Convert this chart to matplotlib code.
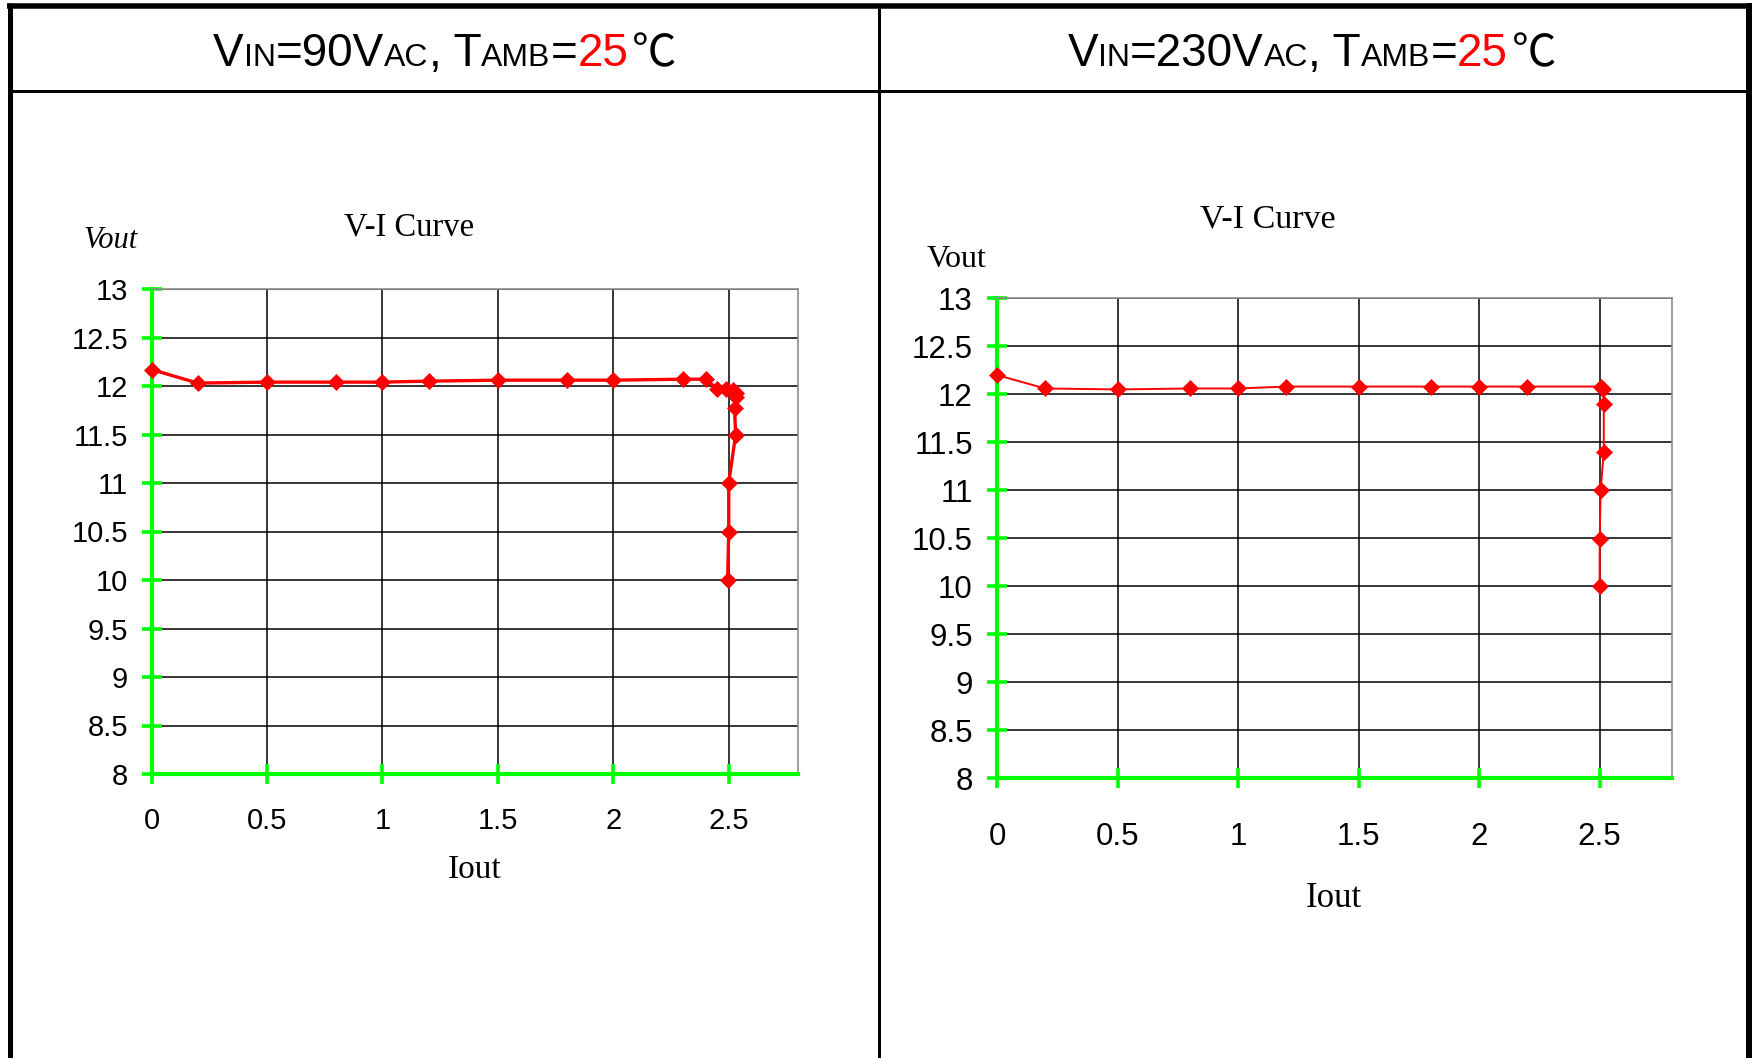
import matplotlib
matplotlib.use("Agg")
import matplotlib.pyplot as plt

# V-I curve readings, 90 VAC input
iout_90 = [0, 0.2, 0.5, 0.8, 1.0, 1.2, 1.5, 1.8, 2.0, 2.3, 2.4, 2.45, 2.49, 2.52,
           2.53, 2.53, 2.525, 2.53, 2.5, 2.5, 2.495]
vout_90 = [12.17, 12.03, 12.04, 12.04, 12.04, 12.05, 12.06, 12.06, 12.06, 12.07, 12.07,
           11.97, 11.97, 11.96, 11.93, 11.89, 11.77, 11.5, 11.0, 10.49, 10.0]

# V-I curve readings, 230 VAC input
iout_230 = [0, 0.2, 0.5, 0.8, 1.0, 1.2, 1.5, 1.8, 2.0, 2.2, 2.505, 2.515, 2.517,
            2.517, 2.504, 2.5, 2.5]
vout_230 = [12.2, 12.06, 12.05, 12.06, 12.06, 12.08, 12.08, 12.08, 12.08, 12.08, 12.08,
            12.05, 11.9, 11.4, 11.0, 10.49, 10.0]

xticks = [0, 0.5, 1, 1.5, 2, 2.5]
xlabels = ["0", "0.5", "1", "1.5", "2", "2.5"]
yticks = [8, 8.5, 9, 9.5, 10, 10.5, 11, 11.5, 12, 12.5, 13]
ylabels = ["8", "8.5", "9", "9.5", "10", "10.5", "11", "11.5", "12", "12.5", "13"]

title_90 = [("V", "big"), ("IN", "sub"), ("=90V", "big"), ("AC", "sub"), (", T", "big"),
            ("AMB", "sub"), ("=", "big"), ("25", "red"), ("℃", "cjk")]
title_230 = [("V", "big"), ("IN", "sub"), ("=230V", "big"), ("AC", "sub"), (", T", "big"),
             ("AMB", "sub"), ("=", "big"), ("25", "red"), ("℃", "cjk")]

SANS = ["Liberation Sans", "DejaVu Sans"]
SERIF = ["Liberation Serif", "DejaVu Serif"]
GREEN = "#00FF00"

W, H = 1752, 1058
fig = plt.figure(figsize=(W / 100, H / 100), dpi=100)
fig.patch.set_facecolor("white")

# overlay in pixel coordinates for the table frame and free text
ax0 = fig.add_axes([0, 0, 1, 1])
ax0.set_xlim(0, W)
ax0.set_ylim(H, 0)
ax0.axis("off")

def frame(x, y, lw_px):
    ax0.plot(x, y, color="black", lw=lw_px * 0.72, solid_capstyle="butt")

frame([7, W], [5.5, 5.5], 5.5)
frame([9.5, 9.5], [3, H], 5)
frame([1749, 1749], [3, H], 6)
frame([12, 1746], [90.5, 90.5], 3)
frame([879, 879], [8, H], 3)

styles = {
    "big": dict(fontsize=33, color="black", family=SANS),
    "sub": dict(fontsize=23, color="black", family=SANS),
    "red": dict(fontsize=33, color="#FF0000", family=SANS),
    "cjk": dict(fontsize=32, color="black", family=["Noto Sans CJK SC", "DejaVu Sans"],
                fontweight="light"),
}

def rich_title(pieces, cx, base):
    r = fig.canvas.get_renderer()
    parts = []
    total = 0
    for s, st in pieces:
        t = ax0.text(0, base, s, va="baseline", ha="left", **styles[st])
        w = t.get_window_extent(r).width
        gap = 4 if st == "cjk" else 0
        parts.append((t, w, gap))
        total += w + gap
    x = cx - total / 2
    for t, w, gap in parts:
        x += gap
        t.set_x(x)
        x += w

rich_title(title_90, 445, 66.5)
rich_title(title_230, 1312, 66.5)

def vi_plot(rect, iout, vout, lw, tick_fs, ypad, xpad):
    x0, y0, x1, y1 = rect
    ax = fig.add_axes([x0 / W, 1 - y1 / H, (x1 - x0) / W, (y1 - y0) / H])
    ax.plot(iout, vout, color="#FF0000", lw=lw, marker="D", ms=7.8, mew=0.5,
            zorder=3, clip_on=False)
    ax.set_xlim(0, 2.8)
    ax.set_ylim(8, 13)
    ax.set_xticks(xticks)
    ax.set_xticklabels(xlabels)
    ax.set_yticks(yticks)
    ax.set_yticklabels(ylabels)
    ax.grid(True, color="black", lw=1.1)
    for side in ["left", "bottom"]:
        ax.spines[side].set_color(GREEN)
        ax.spines[side].set_linewidth(3)
    for side in ["top", "right"]:
        ax.spines[side].set_color("#8c8c8c")
        ax.spines[side].set_linewidth(1.2)
    ax.tick_params(direction="inout", length=15, width=2.6, color=GREEN,
                   labelsize=tick_fs)
    ax.tick_params(axis="y", pad=ypad)
    ax.tick_params(axis="x", pad=xpad)
    for lab in ax.get_xticklabels() + ax.get_yticklabels():
        lab.set_family(SANS)
    return ax

vi_plot((151.5, 289, 798, 774), iout_90, vout_90, 2.4, 21, 9.5, 16.5)
vi_plot((997, 298.3, 1672, 778), iout_230, vout_230, 1.4, 22.5, 10, 24)

# chart titles and axis names
ax0.text(409, 235, "V-I Curve", fontsize=23.5, family=SERIF, ha="center", va="baseline")
ax0.text(111, 248, "Vout", fontsize=22, family=SERIF, style="italic", ha="center", va="baseline")
ax0.text(475, 878, "Iout", fontsize=24, family=SERIF, ha="center", va="baseline")

ax0.text(1268, 228, "V-I Curve", fontsize=24.5, family=SERIF, ha="center", va="baseline")
ax0.text(957, 267, "Vout", fontsize=23, family=SERIF, ha="center", va="baseline")
ax0.text(1334, 907, "Iout", fontsize=25, family=SERIF, ha="center", va="baseline")

fig.savefig("out.png", dpi=100, facecolor="white")
